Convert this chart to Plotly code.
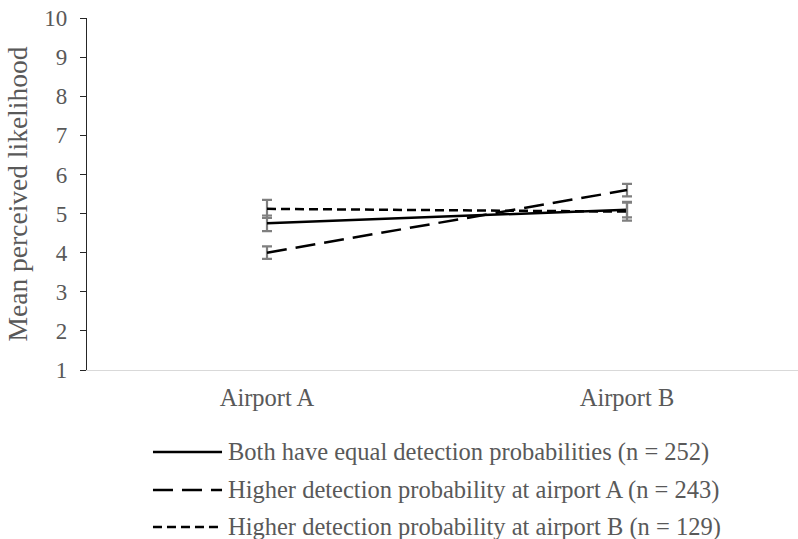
import plotly.graph_objects as go

# Mean perceived likelihood of detection at each airport, by condition
airports = ["Airport A", "Airport B"]
series_names = [
    "Both have equal detection probabilities (n = 252)",
    "Higher detection probability at airport A (n = 243)",
    "Higher detection probability at airport B (n = 129)",
]
equal_means = [4.75, 5.10]
equal_err = [0.20, 0.20]
higher_a_means = [4.00, 5.60]
higher_a_err = [0.16, 0.16]
higher_b_means = [5.12, 5.05]
higher_b_err = [0.23, 0.23]

y_ticks = [1, 2, 3, 4, 5, 6, 7, 8, 9, 10]

FONT = "Liberation Serif"
TEXT = "#595959"
dash_styles = ["solid", "20px,9px", "9px,5px"]

fig = go.Figure()
x_pos = list(range(len(airports)))
for name, means, errs, dash in zip(
    series_names,
    [equal_means, higher_a_means, higher_b_means],
    [equal_err, higher_a_err, higher_b_err],
    dash_styles,
):
    fig.add_trace(go.Scatter(
        x=x_pos, y=means, name=name, mode="lines",
        line=dict(color="black", width=2.5, dash=dash),
        error_y=dict(type="data", array=errs, visible=True,
                     color="#7f7f7f", thickness=2.2, width=5),
        showlegend=False,
    ))

# Legend drawn beneath the plot: line sample plus label for each series
legend_rows = [-0.233, -0.341, -0.446]
for name, dash, yr in zip(series_names, dash_styles, legend_rows):
    fig.add_shape(type="line", xref="paper", yref="paper",
                  x0=0.0928, x1=0.1899, y0=yr, y1=yr,
                  line=dict(color="black", width=2.5, dash=dash))
    fig.add_annotation(xref="paper", yref="paper", x=0.196, y=yr,
                       xanchor="left", yanchor="middle", text=name,
                       showarrow=False,
                       font=dict(family=FONT, size=24.5, color=TEXT))

fig.update_layout(
    width=798, height=539,
    margin=dict(l=87, r=0, t=18, b=169),
    paper_bgcolor="white", plot_bgcolor="white",
    font=dict(family=FONT, color=TEXT),
    xaxis=dict(
        tickmode="array", tickvals=x_pos, ticktext=airports,
        range=[-0.5, 1.475], showgrid=False, zeroline=False,
        showline=True, linecolor="#d9d9d9", linewidth=1.3,
        ticks="", tickfont=dict(family=FONT, size=24.5, color=TEXT),
        ticklabelstandoff=5,
    ),
    yaxis=dict(
        range=[1, 10], tickvals=y_ticks, showgrid=False, zeroline=False,
        showline=True, linecolor="#262626", linewidth=1.3,
        ticks="outside", ticklen=6, tickcolor="#262626", tickwidth=1.3,
        tickfont=dict(family=FONT, size=23, color=TEXT),
        ticklabelstandoff=8,
        title=dict(text="Mean perceived likelihood", standoff=8,
                   font=dict(family=FONT, size=27.5, color=TEXT)),
    ),
)

fig.write_html("out.html")
